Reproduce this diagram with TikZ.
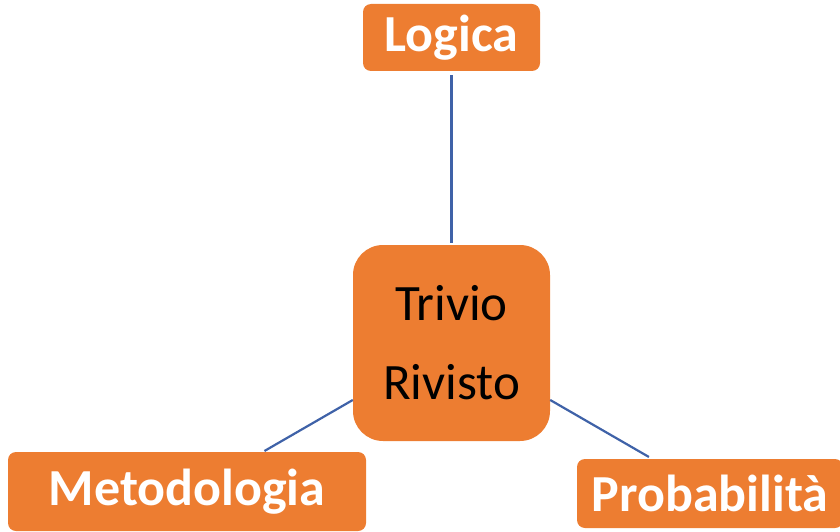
\documentclass[tikz,border=0pt]{standalone}
\usepackage{fontspec}
\setmainfont{Carlito}
\usetikzlibrary{calc}
\definecolor{boxorange}{HTML}{ED7D31}
\definecolor{linkblue}{HTML}{3F62A8}
\tikzset{
  outerbox/.style={fill=boxorange, draw=none, rounded corners=8pt, inner sep=0pt,
    text=white, font=\bfseries\fontsize{52}{60}\selectfont},
  centerbox/.style={fill=boxorange, draw=none, rounded corners=30pt, inner sep=0pt,
    text=black, align=center, font=\fontsize{51}{79}\selectfont,
    minimum width=197pt, minimum height=196pt},
  link/.style={draw=linkblue, line width=2.2pt}
}
\begin{document}
\begin{tikzpicture}[x=1pt,y=-1pt]
\useasboundingbox (0,0) rectangle (840,532);
\node[outerbox, minimum width=177pt, minimum height=67pt] (l) at (451.5,37.5) {Logica};
\node[centerbox] (c) at (451.5,343) {Trivio\\Rivisto};
\node[outerbox, minimum width=358pt, minimum height=79pt] (m) at (187,491.5) {Metodologia};
\node[outerbox, minimum width=266pt, minimum height=69pt] (p) at (710,493.5) {Probabilità};
\draw[link, shorten <=4pt, shorten >=2pt] (l.south) -- (c.north);
\draw[link] (c.210) -- ++(150:102);
\draw[link] (c.330) -- ++(30:114);
\end{tikzpicture}
\end{document}
